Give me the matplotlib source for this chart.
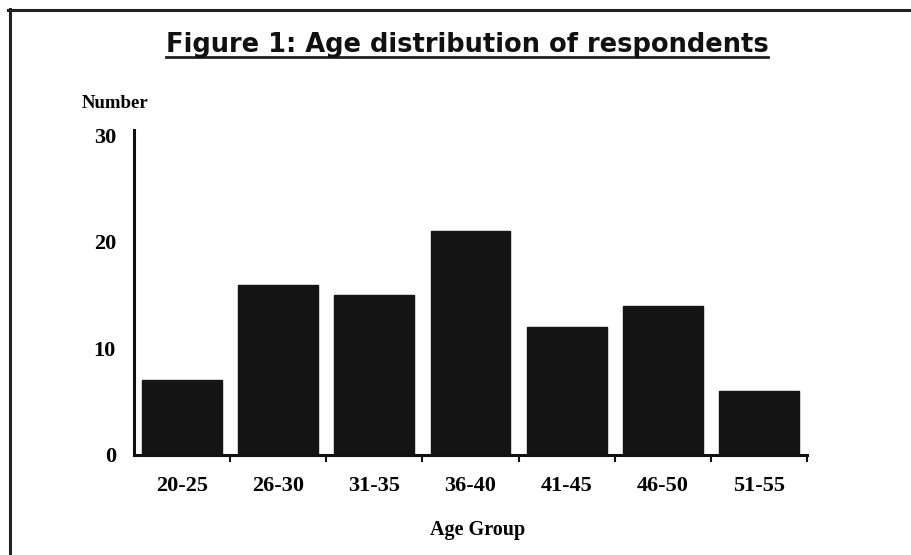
import matplotlib
matplotlib.use("Agg")
import matplotlib.pyplot as plt
from matplotlib.lines import Line2D

categories = ["20-25", "26-30", "31-35", "36-40", "41-45", "46-50", "51-55"]
counts = [7, 16, 15, 21, 12, 14, 6]
y_ticks = [0, 10, 20, 30]

W, H = 911, 555
fig = plt.figure(figsize=(W / 100, H / 100), dpi=100)
fig.patch.set_facecolor("white")

ax = fig.add_axes([134 / W, 1 - 455 / H, (807 - 134) / W, (455 - 130) / H])
x = list(range(len(categories)))
ax.bar(x, counts, width=0.83, color="#141414", edgecolor="#141414")
ax.set_xlim(-0.5, len(categories) - 0.5)
ax.set_ylim(0, 30.5)

for s in ["top", "right"]:
    ax.spines[s].set_visible(False)
for s in ["left", "bottom"]:
    ax.spines[s].set_linewidth(2.2)
    ax.spines[s].set_color("#111111")

serif = ["Liberation Serif", "DejaVu Serif"]
ax.set_yticks(y_ticks)
ax.set_yticklabels([str(v) for v in y_ticks], family=serif, fontweight="bold", fontsize=16)
ax.tick_params(axis="y", length=0, pad=13)

ax.set_xticks([i + 0.5 for i in x])
ax.set_xticklabels([])
ax.set_xticks(x, minor=True)
ax.set_xticklabels(categories, minor=True, family=serif, fontweight="bold", fontsize=16)
ax.tick_params(axis="x", which="major", length=5, width=1.5, direction="out", color="#111111")
ax.tick_params(axis="x", which="minor", length=0, pad=15)

fig.text(82 / W, 1 - 103 / H, "Number", family=serif, fontweight="bold",
         fontsize=13.5, ha="left", va="center")
fig.text(478 / W, 1 - 530 / H, "Age Group", family=serif, fontweight="bold",
         fontsize=14.5, ha="center", va="center")

title = fig.text(467 / W, 1 - 45 / H, "Figure 1: Age distribution of respondents",
                 family=["DejaVu Sans"], fontweight="bold",
                 fontsize=18.5, ha="center", va="center", color="#111111")

# underline the title
fig.canvas.draw()
bb = title.get_window_extent()
uy = bb.y0 + 1
fig.add_artist(Line2D([bb.x0 / W, bb.x1 / W], [uy / H, uy / H],
                      transform=fig.transFigure, color="#222222", linewidth=2))

# frame lines (top and left)
fig.add_artist(Line2D([8 / W, 1.0], [1 - 10 / H, 1 - 10 / H],
                      transform=fig.transFigure, color="#222222", linewidth=2.2))
fig.add_artist(Line2D([10 / W, 10 / W], [1 - 9 / H, 0.0],
                      transform=fig.transFigure, color="#222222", linewidth=2.2))

fig.savefig("out.png", dpi=100)
